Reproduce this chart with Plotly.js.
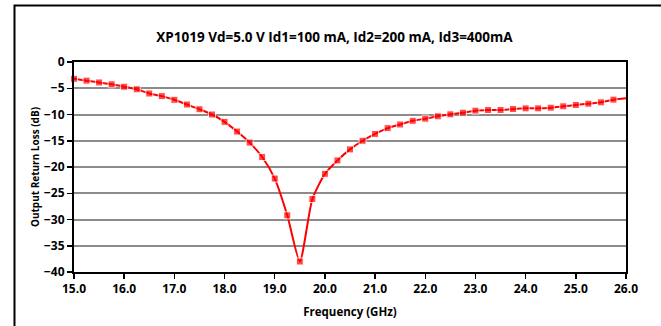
<!DOCTYPE html>
<html><head><meta charset="utf-8">
<script src="https://cdn.plot.ly/plotly-3.0.1.min.js"></script>
<style>html,body{margin:0;padding:0;background:#fff;}#c{width:661px;height:326px;}</style>
</head><body><div id="c"></div>
<script>
var freqGHz = [15.0,15.25,15.5,15.75,16.0,16.25,16.5,16.75,17.0,17.25,17.5,17.75,18.0,18.25,18.5,18.75,19.0,19.25,19.5,19.75,20.0,20.25,20.5,20.75,21.0,21.25,21.5,21.75,22.0,22.25,22.5,22.75,23.0,23.25,23.5,23.75,24.0,24.25,24.5,24.75,25.0,25.25,25.5,25.75,26.0];
var returnLossDb = [-3.2,-3.55,-3.9,-4.25,-4.7,-5.2,-6.0,-6.5,-7.2,-8.1,-9.0,-10.0,-11.4,-13.25,-15.35,-18.1,-22.2,-29.2,-38.0,-26.1,-21.3,-18.75,-16.65,-15.0,-13.7,-12.6,-11.9,-11.2,-10.8,-10.35,-9.97,-9.65,-9.27,-9.14,-9.14,-8.95,-8.83,-8.83,-8.7,-8.44,-8.19,-7.94,-7.68,-7.17,-6.9];
var xTickVals = [15,16,17,18,19,20,21,22,23,24,25,26];
var xTickText = ["15.0","16.0","17.0","18.0","19.0","20.0","21.0","22.0","23.0","24.0","25.0","26.0"];
var yTickVals = [0,-5,-10,-15,-20,-25,-30,-35,-40];

var fnt = "'Open Sans', Arial, sans-serif";
var markerSizes = freqGHz.map(function(f){ return f < 26 ? 7 : 0; });

var trace = {
  x: freqGHz, y: returnLossDb, type: 'scatter', mode: 'lines+markers',
  line: {color: '#ff0000', width: 2, shape: 'spline', smoothing: 0.6},
  marker: {color: '#ff0000', symbol: 'square', size: markerSizes},
  cliponaxis: false, hoverinfo: 'none'
};
var layout = {
  width: 661, height: 326,
  margin: {l: 74, r: 35, t: 62, b: 54},
  paper_bgcolor: '#fff', plot_bgcolor: '#fff',
  showlegend: false,
  title: {text: 'XP1019 Vd=5.0 V Id1=100 mA, Id2=200 mA, Id3=400mA',
          font: {family: fnt, size: 13.5, color: '#000', weight: 'bold'},
          x: 0.506, xref: 'container', y: 0.885, yref: 'container', yanchor: 'middle', xanchor: 'center'},
  xaxis: {range: [15, 26], tickvals: xTickVals, ticktext: xTickText,
          showgrid: false, zeroline: false, showline: true, linecolor: '#000', linewidth: 2, mirror: true,
          ticks: 'outside', ticklen: 5, tickwidth: 1.5, tickcolor: '#000',
          tickfont: {family: fnt, size: 12, color: '#000', weight: 'bold'},
          title: {text: 'Frequency (GHz)', font: {family: fnt, size: 11.5, color: '#000', weight: 'bold'}, standoff: 12}},
  yaxis: {range: [-40, 0], tickvals: yTickVals,
          showgrid: true, gridcolor: '#8c8c8c', gridwidth: 2, zeroline: false,
          showline: true, linecolor: '#000', linewidth: 2, mirror: true,
          ticks: 'outside', ticklen: 5, tickwidth: 1.5, tickcolor: '#000',
          tickfont: {family: fnt, size: 12, color: '#000', weight: 'bold'},
          title: {text: 'Output Return Loss (dB)', font: {family: fnt, size: 10, color: '#000', weight: 'bold'}, standoff: 3}},
  shapes: [{type: 'rect', xref: 'paper', yref: 'paper', x0: -0.1078, x1: 1.08, y0: -0.3, y1: 1.269,
            line: {color: '#000', width: 2}, layer: 'below'}]
};
Plotly.newPlot('c', [trace], layout, {staticPlot: true});
</script></body></html>
